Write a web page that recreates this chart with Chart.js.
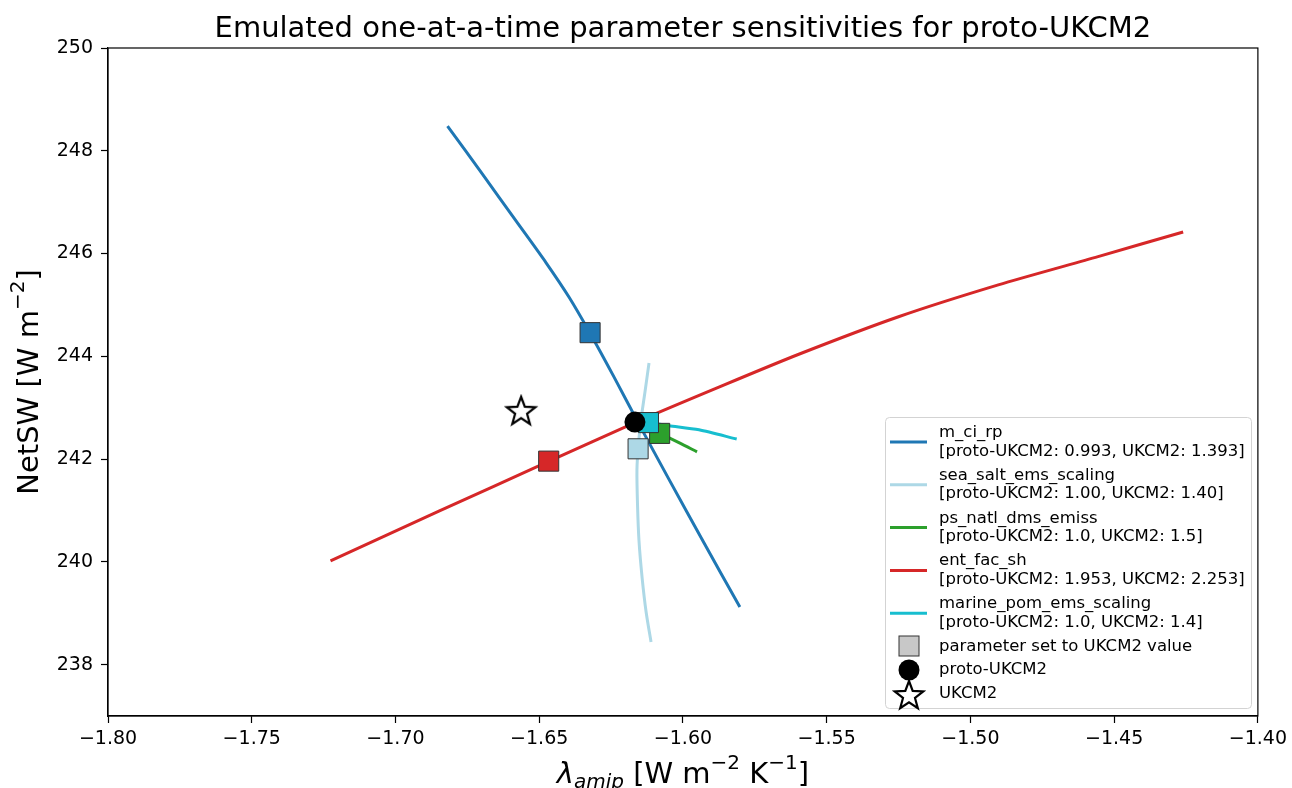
<!DOCTYPE html>
<html>
<head>
<meta charset="utf-8">
<script src="https://cdn.jsdelivr.net/npm/chart.js@4.4.1/dist/chart.umd.min.js"></script>
<style>
  body { margin: 0; background: #fff; }
  #wrap { width: 1292px; height: 788px; }
</style>
</head>
<body>
<div id="wrap"><canvas id="myChart"></canvas></div>
<script>
// axis ticks
var xTicks = [-1.80, -1.75, -1.70, -1.65, -1.60, -1.55, -1.50, -1.45, -1.40];
var yTicks = [238, 240, 242, 244, 246, 248, 250];

// legend text
var paramNames = ["m_ci_rp", "sea_salt_ems_scaling", "ps_natl_dms_emiss", "ent_fac_sh", "marine_pom_ems_scaling"];
var protoVals = ["0.993", "1.00", "1.0", "1.953", "1.0"];
var ukcm2Vals = ["1.393", "1.40", "1.5", "2.253", "1.4"];
var paramColors = ["#1f77b4", "#add8e6", "#2ca02c", "#d62728", "#17becf"];

// one-at-a-time curves (lambda_amip, NetSW)
var mciX = [-1.6819, -1.6698, -1.6580, -1.6476, -1.6396, -1.6323, -1.6240, -1.6153, -1.6049, -1.5927, -1.5802];
var mciY = [248.48, 247.55, 246.63, 245.82, 245.15, 244.45, 243.60, 242.68, 241.61, 240.37, 239.12];

var seaSaltX = [-1.6118, -1.6132, -1.6146, -1.6155, -1.6160, -1.6158, -1.6153, -1.6142, -1.6128, -1.6111];
var seaSaltY = [243.87, 243.31, 242.76, 242.27, 241.79, 241.11, 240.42, 239.69, 239.02, 238.44];

var dmsX = [-1.6167, -1.6081, -1.6014, -1.5951];
var dmsY = [242.72, 242.50, 242.32, 242.14];

var entX = [-1.7226, -1.6847, -1.6469, -1.6167, -1.5875, -1.5597, -1.5250, -1.4903, -1.4556, -1.4260];
var entY = [240.02, 240.99, 241.95, 242.71, 243.40, 244.04, 244.77, 245.39, 245.94, 246.42];

var pomX = [-1.6167, -1.6120, -1.6049, -1.5944, -1.5813];
var pomY = [242.72, 242.71, 242.65, 242.57, 242.39];

// parameter set to UKCM2 value (same order as paramNames)
var ukSetX = [-1.6323, -1.6156, -1.6081, -1.6467, -1.6120];
var ukSetY = [244.46, 242.20, 242.50, 241.96, 242.71];

var protoX = [-1.6167];
var protoY = [242.72];
var ukcm2X = [-1.6563];
var ukcm2Y = [242.92];

var FONT = "DejaVu Sans";

function toXY(xs, ys) {
  return xs.map(function (x, i) { return { x: x, y: ys[i] }; });
}

function makeStar(R) {
  var c = document.createElement("canvas");
  c.width = 2 * R + 6;
  c.height = 2 * R + 6;
  var g = c.getContext("2d");
  var cx = c.width / 2, cy = c.height / 2;
  g.beginPath();
  for (var i = 0; i < 10; i++) {
    var r = i % 2 === 0 ? R : R * 0.42;
    var a = -Math.PI / 2 + i * Math.PI / 5;
    g.lineTo(cx + r * Math.cos(a), cy + r * Math.sin(a));
  }
  g.closePath();
  g.fillStyle = "#fff";
  g.fill();
  g.lineWidth = 2.2;
  g.lineJoin = "miter";
  g.strokeStyle = "#000";
  g.stroke();
  return c;
}
var starImg = makeStar(15);

function lineSet(xs, ys, color, order) {
  return {
    data: toXY(xs, ys),
    showLine: true,
    borderColor: color,
    borderWidth: 3,
    pointRadius: 0,
    tension: 0.25,
    order: order,
  };
}

function fmtX(v) {
  return (v < 0 ? "\u2212" : "") + Math.abs(v).toFixed(2);
}

// text with sub/superscripts
function drawRich(ctx, parts, x, y) {
  var total = 0;
  parts.forEach(function (p) {
    ctx.font = (p.it ? "italic " : "") + p.s + "px '" + FONT + "'";
    p.w = ctx.measureText(p.t).width;
    total += p.w;
  });
  var cx = x - total / 2;
  ctx.textAlign = "left";
  ctx.textBaseline = "alphabetic";
  parts.forEach(function (p) {
    ctx.font = (p.it ? "italic " : "") + p.s + "px '" + FONT + "'";
    ctx.fillText(p.t, cx, y + (p.dy || 0));
    cx += p.w;
  });
}

var decorPlugin = {
  id: "decor",
  afterDraw: function (chart) {
    var ctx = chart.ctx;
    var a = chart.chartArea;
    ctx.save();
    ctx.fillStyle = "#000";

    // frame
    ctx.strokeStyle = "#000";
    ctx.lineWidth = 1.2;
    ctx.strokeRect(a.left, a.top, a.right - a.left, a.bottom - a.top);

    // title
    ctx.font = "29px '" + FONT + "'";
    ctx.textAlign = "center";
    ctx.textBaseline = "alphabetic";
    ctx.fillText("Emulated one-at-a-time parameter sensitivities for proto-UKCM2", (a.left + a.right) / 2, 37);

    // x label
    drawRich(ctx, [
      { t: "\u03bb", s: 29, it: true },
      { t: "amip", s: 20, dy: 5, it: true },
      { t: " [W m", s: 29 },
      { t: "\u22122", s: 20, dy: -14 },
      { t: " K", s: 29 },
      { t: "\u22121", s: 20, dy: -14 },
      { t: "]", s: 29 },
    ], (a.left + a.right) / 2, 783);

    // y label
    ctx.save();
    ctx.translate(38, (a.top + a.bottom) / 2);
    ctx.rotate(-Math.PI / 2);
    drawRich(ctx, [
      { t: "NetSW [W m", s: 29 },
      { t: "\u22122", s: 20, dy: -14 },
      { t: "]", s: 29 },
    ], 0, 0);
    ctx.restore();

    // legend
    var bx = 885.5, by = 417.5, bw = 366, bh = 291;
    ctx.beginPath();
    ctx.roundRect(bx, by, bw, bh, 4);
    ctx.fillStyle = "rgba(255,255,255,0.85)";
    ctx.fill();
    ctx.strokeStyle = "#d3d3d3";
    ctx.lineWidth = 1;
    ctx.stroke();

    ctx.font = "16.5px '" + FONT + "'";
    ctx.textAlign = "left";
    ctx.textBaseline = "alphabetic";
    var pitch = 42.8;
    paramNames.forEach(function (name, i) {
      var y0 = 437 + i * pitch;
      ctx.strokeStyle = paramColors[i];
      ctx.lineWidth = 3;
      ctx.beginPath();
      ctx.moveTo(890, y0 + 5);
      ctx.lineTo(927, y0 + 5);
      ctx.stroke();
      ctx.fillStyle = "#000";
      ctx.fillText(name, 939, y0);
      ctx.fillText("[proto-UKCM2: " + protoVals[i] + ", UKCM2: " + ukcm2Vals[i] + "]", 939, y0 + 18.5);
    });

    // marker entries
    ctx.fillStyle = "#c8c8c8";
    ctx.strokeStyle = "#333";
    ctx.lineWidth = 1;
    ctx.fillRect(899, 636, 20, 20);
    ctx.strokeRect(899, 636, 20, 20);
    ctx.fillStyle = "#000";
    ctx.beginPath();
    ctx.arc(909, 670, 10.5, 0, 2 * Math.PI);
    ctx.fill();
    ctx.drawImage(starImg, 909 - starImg.width / 2, 696 - starImg.height / 2);
    ctx.fillText("parameter set to UKCM2 value", 939, 651);
    ctx.fillText("proto-UKCM2", 939, 674);
    ctx.fillText("UKCM2", 939, 698);

    ctx.restore();
  },
};

var data = {
  datasets: [
    {
      data: toXY(ukcm2X, ukcm2Y),
      pointStyle: starImg,
      pointRadius: 15,
      order: 0,
    },
    {
      data: toXY(protoX, protoY),
      pointStyle: "circle",
      pointRadius: 10.5,
      pointBackgroundColor: "#000",
      pointBorderColor: "#000",
      pointBorderWidth: 0,
      order: 0,
    },
    {
      data: toXY(ukSetX, ukSetY),
      pointStyle: "rect",
      pointRadius: 14.2,
      pointBackgroundColor: paramColors,
      pointBorderColor: "#333",
      pointBorderWidth: 1,
      order: 1,
    },
    lineSet(pomX, pomY, paramColors[4], 6),
    lineSet(entX, entY, paramColors[3], 7),
    lineSet(dmsX, dmsY, paramColors[2], 8),
    lineSet(seaSaltX, seaSaltY, paramColors[1], 9),
    lineSet(mciX, mciY, paramColors[0], 10),
  ],
};

var config = {
  type: "scatter",
  data: data,
  options: {
    responsive: true,
    maintainAspectRatio: false,
    animation: false,
    events: [],
    layout: { padding: { top: 48, right: 30, left: 0, bottom: 0 } },
    plugins: {
      legend: { display: false },
      title: { display: false },
      tooltip: { enabled: false },
    },
    scales: {
      x: {
        type: "linear",
        min: -1.8,
        max: -1.4,
        afterBuildTicks: function (s) { s.ticks = xTicks.map(function (v) { return { value: v }; }); },
        afterFit: function (s) { s.height = 72; },
        ticks: {
          font: { family: FONT, size: 19 },
          color: "#000",
          padding: 5,
          maxRotation: 0,
          autoSkip: false,
          callback: function (v) { return fmtX(v); },
        },
        grid: { drawOnChartArea: false, drawTicks: true, tickLength: 7, tickColor: "#000", tickWidth: 1.2 },
        border: { display: true, color: "#000", width: 1.2 },
      },
      y: {
        type: "linear",
        min: 237,
        max: 250,
        afterBuildTicks: function (s) { s.ticks = yTicks.map(function (v) { return { value: v }; }); },
        afterFit: function (s) { s.width = 108; },
        ticks: {
          font: { family: FONT, size: 19 },
          color: "#000",
          padding: 8,
          autoSkip: false,
          callback: function (v) { return String(v); },
        },
        grid: { drawOnChartArea: false, drawTicks: true, tickLength: 7, tickColor: "#000", tickWidth: 1.2 },
        border: { display: true, color: "#000", width: 1.2 },
      },
    },
  },
  plugins: [decorPlugin],
};

var myChart = new Chart(document.getElementById("myChart"), config);
</script>
</body>
</html>
